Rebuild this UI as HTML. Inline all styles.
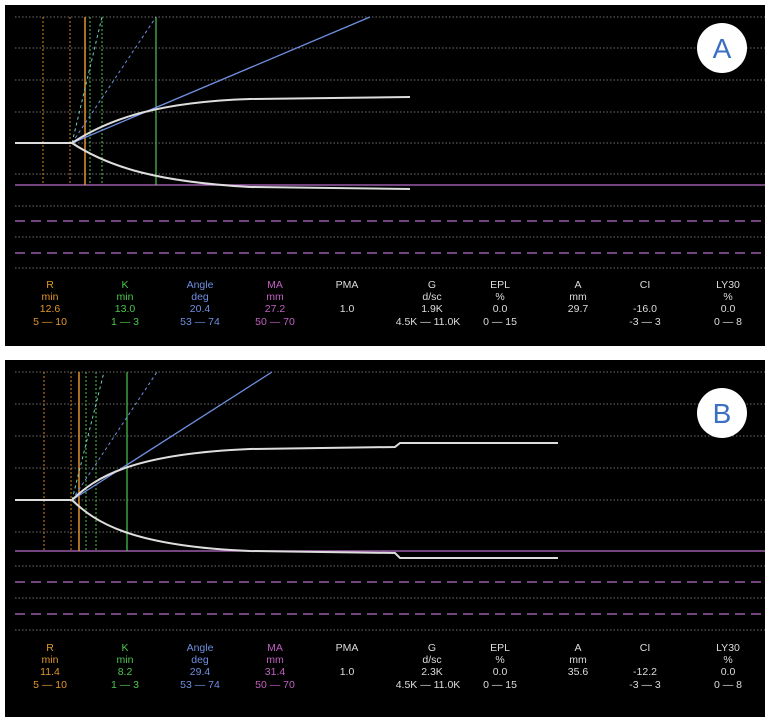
<!DOCTYPE html>
<html><head><meta charset="utf-8"><style>
html,body{margin:0;padding:0;background:#fff;}
svg{display:block;}
text{font-family:"Liberation Sans",sans-serif;font-size:10.5px;text-anchor:middle;}
</style></head><body>
<svg width="773" height="726" viewBox="0 0 773 726">
<rect x="0" y="0" width="773" height="726" fill="#fff"/>
<rect x="5" y="5" width="760" height="341" fill="#000"/>
<g stroke="#bbb" stroke-width="1" stroke-dasharray="1.5,2" opacity="0.6">
<line x1="15" y1="17" x2="765" y2="17"/><line x1="15" y1="48" x2="765" y2="48"/>
<line x1="15" y1="80" x2="765" y2="80"/><line x1="15" y1="112" x2="765" y2="112"/>
<line x1="15" y1="143" x2="765" y2="143"/><line x1="15" y1="174" x2="765" y2="174"/>
<line x1="15" y1="206" x2="765" y2="206"/><line x1="15" y1="237" x2="765" y2="237"/>
<line x1="15" y1="268" x2="765" y2="268"/>
</g>
<g stroke="#9a5aa8" stroke-width="1.5">
<line x1="15" y1="185" x2="765" y2="185"/>
<line x1="15" y1="221" x2="765" y2="221" stroke-dasharray="10,6"/>
<line x1="15" y1="253" x2="765" y2="253" stroke-dasharray="10,6"/>
</g>
<g stroke-width="1">
<line x1="43" y1="17" x2="43" y2="185" stroke="#d08a20" stroke-dasharray="2,2"/>
<line x1="70" y1="17" x2="70" y2="185" stroke="#d08a20" stroke-dasharray="2,2"/>
<line x1="85" y1="17" x2="85" y2="185" stroke="#e0962a" stroke-width="1.5"/>
<line x1="90" y1="17" x2="90" y2="185" stroke="#4cc64c" stroke-dasharray="2,2"/>
<line x1="102" y1="17" x2="102" y2="185" stroke="#4cc64c" stroke-dasharray="2,2"/>
<line x1="156" y1="17" x2="156" y2="185" stroke="#4cc64c" stroke-width="1.2"/>
<line x1="72" y1="143" x2="156" y2="17" stroke="#6f8fe0" stroke-dasharray="3,3"/>
<line x1="72" y1="143" x2="102" y2="17" stroke="#6fd0c0" stroke-dasharray="3,3"/>
<line x1="72" y1="143" x2="370" y2="17" stroke="#6f8fe0" stroke-width="1.3"/>
</g>
<g fill="none" stroke="#ddd" stroke-width="2">
<path d="M15,143 L72,143 C110,118 160,102 250,99 L410,97"/>
<path d="M72,143 C110,168 160,182 250,187 L410,189"/>
</g>
<circle cx="722" cy="48" r="25" fill="#fff"/>
<text x="722" y="58" style="font-size:28px;fill:#3a6fc4">A</text>
<g>
<text x="50" y="288" fill="#e0962a">R</text><text x="50" y="300" fill="#e0962a">min</text><text x="50" y="312" fill="#e0962a">12.6</text><text x="50" y="325" fill="#e0962a">5 — 10</text>
<text x="125" y="288" fill="#4cc64c">K</text><text x="125" y="300" fill="#4cc64c">min</text><text x="125" y="312" fill="#4cc64c">13.0</text><text x="125" y="325" fill="#4cc64c">1 — 3</text>
<text x="200" y="288" fill="#6f8fe0">Angle</text><text x="200" y="300" fill="#6f8fe0">deg</text><text x="200" y="312" fill="#6f8fe0">20.4</text><text x="200" y="325" fill="#6f8fe0">53 — 74</text>
<text x="275" y="288" fill="#c060c0">MA</text><text x="275" y="300" fill="#c060c0">mm</text><text x="275" y="312" fill="#c060c0">27.2</text><text x="275" y="325" fill="#c060c0">50 — 70</text>
<g fill="#ddd">
<text x="347" y="288">PMA</text><text x="347" y="312">1.0</text>
<text x="432" y="288">G</text><text x="432" y="300">d/sc</text><text x="432" y="312">1.9K</text><text x="428" y="325">4.5K — 11.0K</text>
<text x="500" y="288">EPL</text><text x="500" y="300">%</text><text x="500" y="312">0.0</text><text x="500" y="325">0 — 15</text>
<text x="578" y="288">A</text><text x="578" y="300">mm</text><text x="578" y="312">29.7</text>
<text x="645" y="288">CI</text><text x="645" y="312">-16.0</text><text x="645" y="325">-3 — 3</text>
<text x="728" y="288">LY30</text><text x="728" y="300">%</text><text x="728" y="312">0.0</text><text x="728" y="325">0 — 8</text>
</g></g>

<rect x="5" y="360" width="760" height="357" fill="#000"/>
<g stroke="#bbb" stroke-width="1" stroke-dasharray="1.5,2" opacity="0.6">
<line x1="15" y1="372" x2="765" y2="372"/><line x1="15" y1="404" x2="765" y2="404"/>
<line x1="15" y1="436" x2="765" y2="436"/><line x1="15" y1="468" x2="765" y2="468"/>
<line x1="15" y1="500" x2="765" y2="500"/><line x1="15" y1="532" x2="765" y2="532"/>
<line x1="15" y1="566" x2="765" y2="566"/><line x1="15" y1="598" x2="765" y2="598"/>
<line x1="15" y1="630" x2="765" y2="630"/>
</g>
<g stroke="#9a5aa8" stroke-width="1.5">
<line x1="15" y1="551" x2="765" y2="551"/>
<line x1="15" y1="582" x2="765" y2="582" stroke-dasharray="10,6"/>
<line x1="15" y1="614" x2="765" y2="614" stroke-dasharray="10,6"/>
</g>
<g stroke-width="1">
<line x1="44" y1="372" x2="44" y2="551" stroke="#d08a20" stroke-dasharray="2,2"/>
<line x1="71" y1="372" x2="71" y2="551" stroke="#d08a20" stroke-dasharray="2,2"/>
<line x1="79" y1="372" x2="79" y2="551" stroke="#e0962a" stroke-width="1.5"/>
<line x1="86" y1="372" x2="86" y2="551" stroke="#4cc64c" stroke-dasharray="2,2"/>
<line x1="96" y1="372" x2="96" y2="551" stroke="#4cc64c" stroke-dasharray="2,2"/>
<line x1="127" y1="372" x2="127" y2="551" stroke="#4cc64c" stroke-width="1.2"/>
<line x1="72" y1="500" x2="157" y2="372" stroke="#6f8fe0" stroke-dasharray="3,3"/>
<line x1="72" y1="500" x2="104" y2="372" stroke="#6fd0c0" stroke-dasharray="3,3"/>
<line x1="72" y1="500" x2="272" y2="372" stroke="#6f8fe0" stroke-width="1.3"/>
</g>
<g fill="none" stroke="#ddd" stroke-width="2">
<path d="M15,500 L72,500 C95,478 130,454 250,449 L395,447 L400,443 L558,443"/>
<path d="M72,500 C95,522 130,546 250,551 L395,553 L400,558 L558,558"/>
</g>
<circle cx="722" cy="413" r="25" fill="#fff"/>
<text x="722" y="423" style="font-size:28px;fill:#3a6fc4">B</text>
<g>
<text x="50" y="651" fill="#e0962a">R</text><text x="50" y="663" fill="#e0962a">min</text><text x="50" y="675" fill="#e0962a">11.4</text><text x="50" y="688" fill="#e0962a">5 — 10</text>
<text x="125" y="651" fill="#4cc64c">K</text><text x="125" y="663" fill="#4cc64c">min</text><text x="125" y="675" fill="#4cc64c">8.2</text><text x="125" y="688" fill="#4cc64c">1 — 3</text>
<text x="200" y="651" fill="#6f8fe0">Angle</text><text x="200" y="663" fill="#6f8fe0">deg</text><text x="200" y="675" fill="#6f8fe0">29.4</text><text x="200" y="688" fill="#6f8fe0">53 — 74</text>
<text x="275" y="651" fill="#c060c0">MA</text><text x="275" y="663" fill="#c060c0">mm</text><text x="275" y="675" fill="#c060c0">31.4</text><text x="275" y="688" fill="#c060c0">50 — 70</text>
<g fill="#ddd">
<text x="347" y="651">PMA</text><text x="347" y="675">1.0</text>
<text x="432" y="651">G</text><text x="432" y="663">d/sc</text><text x="432" y="675">2.3K</text><text x="428" y="688">4.5K — 11.0K</text>
<text x="500" y="651">EPL</text><text x="500" y="663">%</text><text x="500" y="675">0.0</text><text x="500" y="688">0 — 15</text>
<text x="578" y="651">A</text><text x="578" y="663">mm</text><text x="578" y="675">35.6</text>
<text x="645" y="651">CI</text><text x="645" y="675">-12.2</text><text x="645" y="688">-3 — 3</text>
<text x="728" y="651">LY30</text><text x="728" y="663">%</text><text x="728" y="675">0.0</text><text x="728" y="688">0 — 8</text>
</g></g>
</svg>
</body></html>
